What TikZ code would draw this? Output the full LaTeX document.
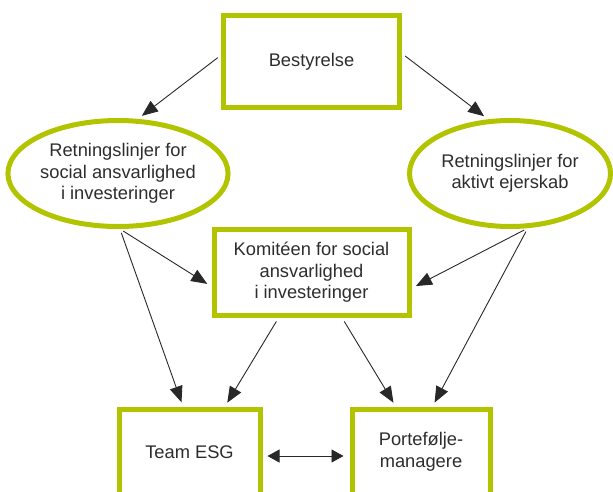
\documentclass[tikz,border=0pt]{standalone}
\usepackage{fontspec}
\setmainfont{Liberation Sans}
\usetikzlibrary{shapes.geometric, arrows.meta, positioning}
\definecolor{esggreen}{RGB}{178,196,0}
\definecolor{textgray}{RGB}{45,45,45}
\definecolor{linegray}{RGB}{40,40,40}
\tikzstyle{box} = [rectangle, draw=esggreen, line width=5pt, inner sep=0pt, text centered, align=center, text=textgray, font=\fontsize{18.3}{21.5}\selectfont]
\tikzstyle{oval} = [ellipse, draw=esggreen, line width=5pt, inner sep=0pt, text centered, align=center, text=textgray, font=\fontsize{18.3}{21.5}\selectfont]
\tikzstyle{arrow} = [draw=linegray, line width=0.9pt, -{Triangle[length=16pt,width=13pt]}, shorten >=5pt, shorten <=4pt]
\tikzstyle{biarrow} = [draw=linegray, line width=0.9pt, {Triangle[length=12pt,width=13pt]}-{Triangle[length=12pt,width=13pt]}, shorten >=6pt, shorten <=5pt]

\begin{document}
\begin{tikzpicture}[x=1pt, y=1pt, on grid]

\path[use as bounding box] (0,0) rectangle (613,-491);
\clip (0,0) rectangle (613,-491);

%% NODES

\node (best) [box, minimum width=176pt, minimum height=92pt] at (311.5,-61.5) {Bestyrelse};
\node (lret) [oval, minimum width=205pt, minimum height=106pt, below left=112pt and 193.5pt of best] {Retningslinjer for\\social ansvarlighed\\i investeringer};
\node (rret) [oval, minimum width=201pt, minimum height=106pt, below right=112pt and 198.5pt of best] {Retningslinjer for\\aktivt ejerskab};
\node (mid) [box, minimum width=195pt, minimum height=86pt, below=211pt of best] {Komitéen for social\\ansvarlighed\\i investeringer};
\node (esg) [box, minimum width=141pt, minimum height=85pt, below left=179.5pt and 122pt of mid] {Team ESG};
\node (port) [box, minimum width=138pt, minimum height=85pt, right=231.5pt of esg] {Portefølje-\\managere};

%% ARROWS

\draw [arrow] (best.176) -- (lret.70);
\draw [arrow] (best.5) -- (rret.112);
\draw [arrow] (lret.272) -- (mid.188);
\draw [arrow] (lret.272) -- (esg.98);
\draw [arrow] (rret.288) -- (mid.351);
\draw [arrow] (rret.288) -- (port.76);
\draw [arrow] (mid.234) -- (esg.52);
\draw [arrow] (mid.304) -- (port.119);
\draw [biarrow] ([yshift=-4pt]esg.east) -- ([yshift=-4pt]port.west);

\end{tikzpicture}
\end{document}
